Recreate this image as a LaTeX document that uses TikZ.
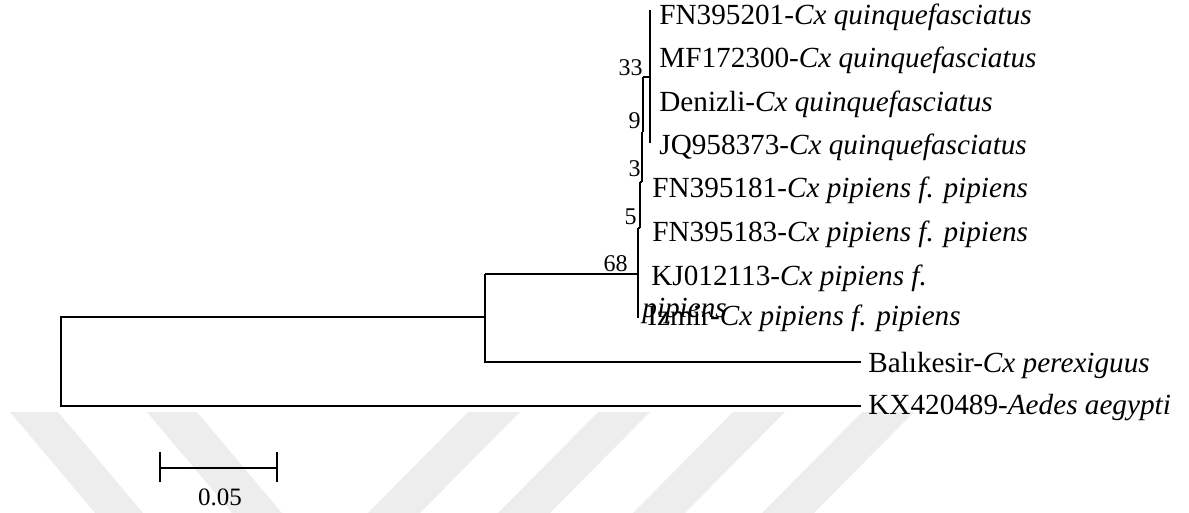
\documentclass[tikz,border=0pt]{standalone}
\usepackage{fontspec}
\setmainfont{Liberation Serif}
\begin{document}
\begin{tikzpicture}[x=0.5pt,y=-0.5pt,
  br/.style={line width=1pt},
  brt/.style={line width=1.4pt},
  lab/.style={anchor=base west, inner sep=0pt, font=\fontsize{14.6}{16}\selectfont},
  bs/.style={anchor=base east, inner sep=0pt, font=\fontsize{12}{14}\selectfont},
  wm/.style={fill=black!7, draw=none}]
\useasboundingbox (0,0) rectangle (1189,513);
% watermark stripes
\fill[wm] (10,412) -- (58,412) -- (143,513) -- (95,513) -- cycle;
\fill[wm] (147,412) -- (197,412) -- (282,513) -- (232,513) -- cycle;
\foreach \sx in {468,598,733,862}{
  \fill[wm] (\sx,412) -- ({\sx+52},412) -- ({\sx-48},513) -- ({\sx-100},513) -- cycle;
}
% coordinates
\coordinate (r1) at (61,317);
\coordinate (r2) at (61,406);
\coordinate (a) at (485,317);
\coordinate (a1) at (485,274);
\coordinate (a2) at (485,362);
\coordinate (tb) at (861,362);
\coordinate (ta) at (861,406);
\coordinate (n68) at (638,274);
\coordinate (n68t) at (638,228);
\coordinate (n68b) at (638,318);
\coordinate (n5t) at (640,182);
\coordinate (n5b) at (640,228);
\coordinate (n3t) at (642,132);
\coordinate (n3b) at (642,182);
\coordinate (n9t) at (643,77);
\coordinate (n9b) at (643,132);
\coordinate (n33) at (650,77);
\coordinate (n33t) at (650,10);
\coordinate (n33b) at (650,143);
% branches
\draw[br] (a) -- (r1) -- (r2) -- (ta);
\draw[br] (a1) -- (a2) -- (tb);
\draw[br] (a1) -- (n68);
\draw[br] (n68t) -- (n68b);
\draw[br] (n68t) -- (n5b);
\draw[brt] (n5t) -- (n5b);
\draw[br] (n5t) -- (n3b);
\draw[brt] (n3t) -- (n3b);
\draw[br] (n3t) -- (n9b);
\draw[br] (n9t) -- (n9b);
\draw[br] (n9t) -- (n33);
\draw[br] (n33t) -- (n33b);
% bootstrap values
\node[bs] (b33) at (643,76) {33};
\node[bs] (b9) at (641,129) {9};
\node[bs] (b3) at (641,177) {3};
\node[bs] (b5) at (637,225) {5};
\node[bs] (b68) at (628,272) {68};
% tip labels
\node[lab] (t1) at (659,25) {FN395201-\textit{Cx quinquefasciatus}};
\node[lab] (t2) at (659,68) {MF172300-\textit{Cx quinquefasciatus}};
\node[lab] (t3) at (659,112) {Denizli-\textit{Cx quinquefasciatus}};
\node[lab] (t4) at (659,155) {JQ958373-\textit{Cx quinquefasciatus}};
\node[lab] (t5) at (652,198) {FN395181-\textit{Cx pipiens f. pipiens}};
\node[lab] (t6) at (652,242) {FN395183-\textit{Cx pipiens f. pipiens}};
\node[lab] (t7) at (651,286) {KJ012113-\textit{Cx pipiens f.}};
\node[lab] (t7b) at (642,318) {\textit{pipiens}};
\node[lab] (t8) at (647,326) {Izmir-\textit{Cx pipiens f. pipiens}};
\node[lab] (t9) at (868,372) {Balıkesir-\textit{Cx perexiguus}};
\node[lab] (t10) at (868,415) {KX420489-\textit{Aedes aegypti}};
% scale bar
\coordinate (s1) at (160,468);
\coordinate (s2) at (277,468);
\draw[br] (s1) -- (s2);
\draw[br] ([yshift=-7]s1) -- ([yshift=8]s1);
\draw[br] ([yshift=-7]s2) -- ([yshift=8]s2);
\node[anchor=base, inner sep=0pt, font=\fontsize{12.5}{14}\selectfont] (sl) at (220,505) {0.05};
\end{tikzpicture}
\end{document}
